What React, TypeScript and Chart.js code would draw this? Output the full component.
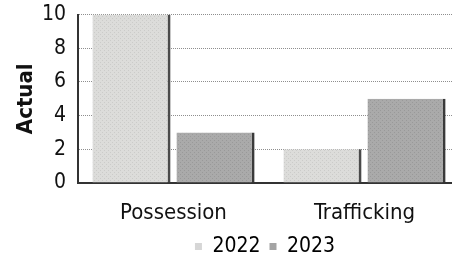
import React, { useEffect, useRef } from "react";
import { Chart, registerables } from "chart.js";

Chart.register(...registerables);

const categories = ["Possession", "Trafficking"];
const seriesLabels = ["2022", "2023"];
const values2022 = [10, 2];
const values2023 = [3, 5];
const yTicks = [0, 2, 4, 6, 8, 10];

const FONT = '"DejaVu Sans Condensed", "DejaVu Sans", sans-serif';

function makePattern(base: string, dot: string) {
  const c = document.createElement("canvas");
  c.width = 4;
  c.height = 4;
  const g = c.getContext("2d")!;
  g.fillStyle = base;
  g.fillRect(0, 0, 4, 4);
  g.fillStyle = dot;
  g.fillRect(0, 0, 1, 1);
  g.fillRect(2, 2, 1, 1);
  return g.createPattern(c, "repeat")!;
}

const legendShift = {
  id: "legendShift",
  afterLayout(chart: any) {
    const lg = chart.legend;
    if (lg && chart.chartArea) {
      lg.left = chart.chartArea.left - 4;
      lg.right = chart.chartArea.right - 4;
    }
  },
};

export default function App() {
  const ref = useRef<HTMLCanvasElement>(null);
  useEffect(() => {
    const p1 = makePattern("#dcdcda", "#cbcbc9");
    const p2 = makePattern("#aaaaaa", "#999999");
    const chart = new Chart(ref.current!, {
      type: "bar",
      data: {
        labels: categories,
        datasets: [
          {
            label: seriesLabels[0],
            data: values2022,
            backgroundColor: p1 as any,
            borderColor: "#4a4a4a",
            borderWidth: { right: 3, top: 0, left: 0, bottom: 0 } as any,
            borderSkipped: false,
            categoryPercentage: 0.88,
            barPercentage: 0.93,
          },
          {
            label: seriesLabels[1],
            data: values2023,
            backgroundColor: p2 as any,
            borderColor: "#3a3a3a",
            borderWidth: { right: 3, top: 0, left: 0, bottom: 0 } as any,
            borderSkipped: false,
            categoryPercentage: 0.88,
            barPercentage: 0.93,
          },
        ],
      },
      options: {
        animation: false,
        responsive: false,
        maintainAspectRatio: false,
        layout: { padding: 0 },
        plugins: {
          tooltip: { enabled: false },
          legend: {
            position: "bottom",
            labels: {
              boxWidth: 7,
              boxHeight: 7,
              padding: 9,
              color: "#111",
              font: { family: FONT, size: 21 },
              generateLabels: (ch: any) =>
                ch.data.datasets.map((d: any, i: number) => ({
                  text: d.label,
                  fillStyle: i === 0 ? "#d6d6d6" : "#a4a4a4",
                  strokeStyle: i === 0 ? "#d6d6d6" : "#a4a4a4",
                  lineWidth: 0,
                  datasetIndex: i,
                  hidden: false,
                })),
            },
          },
        },
        scales: {
          x: {
            grid: { display: false, drawTicks: false },
            border: { display: true, color: "#333", width: 2 },
            afterFit: (s: any) => {
              s.height = 44;
            },
            ticks: {
              color: "#111",
              padding: 17,
              autoSkip: false,
              maxRotation: 0,
              font: { family: FONT, size: 22 },
            },
          },
          y: {
            min: 0,
            max: 10,
            afterBuildTicks: (s: any) => {
              s.ticks = yTicks.map((v) => ({ value: v }));
            },
            afterFit: (s: any) => {
              s.width = 78;
            },
            grid: {
              drawTicks: false,
              color: "#8e8e8e",
              lineWidth: 1,
            },
            border: { display: true, color: "#333", width: 2, dash: [1, 1] },
            ticks: {
              color: "#111",
              padding: 12,
              autoSkip: false,
              font: { family: FONT, size: 21 },
            },
            title: {
              display: true,
              text: "Actual",
              color: "#111",
              font: { family: FONT, size: 22, weight: "bold" },
              padding: { top: 13, bottom: 0 },
            },
          },
        },
      },
      plugins: [legendShift],
    });
    return () => chart.destroy();
  }, []);
  return (
    <div
      style={{
        position: "absolute",
        left: 0,
        top: 0,
        width: 452,
        height: 257,
        overflow: "hidden",
        background: "#fff",
      }}
    >
      <canvas
        ref={ref}
        width={460}
        height={277}
        style={{ display: "block", position: "absolute", left: 0, top: -10 }}
      />
    </div>
  );
}
